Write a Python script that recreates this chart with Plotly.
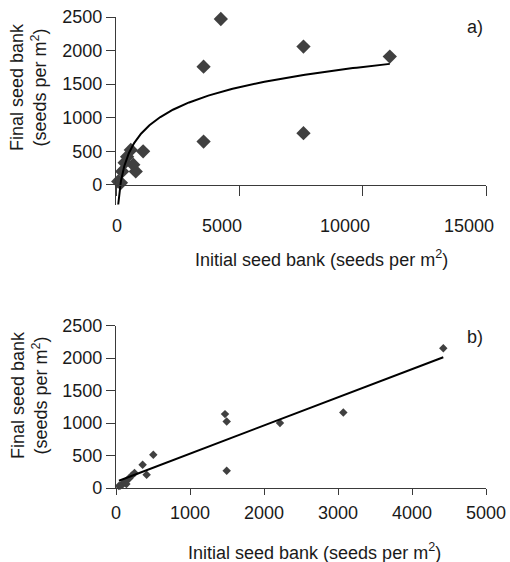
import numpy as np
import plotly.graph_objects as go

# ---- data ----
initial_a = [90, 200, 250, 350, 450, 600, 700, 800, 1100, 3550, 3550, 4250, 7600, 7600, 11100]
final_a = [50, 30, 200, 330, 420, 520, 300, 200, 500, 1760, 645, 2470, 2060, 770, 1910]
# logarithmic trend line y = A*ln(x) + B (coefficients)
LOG_A = 435.0
LOG_B = -2250.0

initial_b = [40, 60, 80, 100, 120, 140, 150, 180, 210, 250, 360, 414, 504, 1473, 1496, 1496, 2216, 3072, 4423]
final_b = [30, 40, 50, 70, 90, 60, 120, 150, 190, 230, 358, 204, 512, 1138, 1025, 266, 1000, 1163, 2154]
# linear trend line y = S*x + C
LIN_S = 0.434
LIN_C = 95.0

ticks_x_a = [0, 5000, 10000, 15000]
ticks_x_b = [0, 1000, 2000, 3000, 4000, 5000]
ticks_y = [0, 500, 1000, 1500, 2000, 2500]

# ---- layout geometry ----
W, H = 510, 562
ML, MR, MT, MB = 116, 24, 17, 74
PW = W - ML - MR
PH = H - MT - MB


def px_x(p):
    return (p - ML) / PW


def px_y(p):
    return (H - MB - p) / PH


ya_range = [-300, 2500]
ya_dom = [px_y(205), 1.0]
yb_dom = [0.0, px_y(325.7)]
xa_pos = ya_dom[0] + (0 - ya_range[0]) / (ya_range[1] - ya_range[0]) * (ya_dom[1] - ya_dom[0])

FONT = "Liberation Sans, Arial, sans-serif"
TXT = "#1a1a1a"
MK = "#404040"
AX = "#3a3a3a"

xa_line = np.geomspace(min(initial_a), max(initial_a), 300)
ya_line = LOG_A * np.log(xa_line) + LOG_B
xb_line = np.array([min(initial_b), max(initial_b)])
yb_line = LIN_S * xb_line + LIN_C

fig = go.Figure()
fig.add_trace(go.Scatter(x=initial_a, y=final_a, mode="markers", xaxis="x", yaxis="y",
                         marker=dict(symbol="diamond", size=11, color=MK), cliponaxis=False))
fig.add_trace(go.Scatter(x=xa_line, y=ya_line, mode="lines", xaxis="x", yaxis="y",
                         line=dict(color="black", width=2), cliponaxis=False))
fig.add_trace(go.Scatter(x=initial_b, y=final_b, mode="markers", xaxis="x2", yaxis="y2",
                         marker=dict(symbol="diamond", size=6.5, color=MK), cliponaxis=False))
fig.add_trace(go.Scatter(x=xb_line, y=yb_line, mode="lines", xaxis="x2", yaxis="y2",
                         line=dict(color="black", width=2), cliponaxis=False))

axcommon = dict(showgrid=False, zeroline=False, showline=True, linecolor=AX, linewidth=1.3,
                ticks="outside", tickcolor=AX, tickwidth=1.3, automargin=False,
                ticklabeloverflow="allow",
                tickfont=dict(family=FONT, size=18, color=TXT))

fig.update_layout(
    width=W, height=H, margin=dict(l=ML, r=MR, t=MT, b=MB, autoexpand=False),
    paper_bgcolor="white", plot_bgcolor="white", showlegend=False,
    xaxis=dict(**axcommon, range=[0, 15000], tickvals=ticks_x_a, showticklabels=False,
               ticklen=10, anchor="free", position=xa_pos, domain=[0, 1]),
    yaxis=dict(**axcommon, range=ya_range, tickvals=ticks_y, ticklen=9, domain=ya_dom, anchor="x"),
    xaxis2=dict(**axcommon, range=[0, 5000], tickvals=ticks_x_b,
                ticktext=[str(v) for v in ticks_x_b], ticklen=6, anchor="y2",
                ticklabelstandoff=2, domain=[0, 1]),
    yaxis2=dict(**axcommon, range=[0, 2500], tickvals=ticks_y, ticklen=9, domain=yb_dom, anchor="x2"),
)

ann_font = dict(family=FONT, size=18, color=TXT)

# top-chart x tick labels: in the reference they sit a little left of their ticks
for v in ticks_x_a:
    fig.add_annotation(xref="x", yref="paper", x=v, y=px_y(226), text=str(v),
                       xshift=(1 if v == 0 else -17.5), showarrow=False, font=ann_font,
                       xanchor="center", yanchor="middle")

xtitle = "Initial seed bank (seeds per m<sup>2</sup>)"
ytitle = "Final seed bank<br>(seeds per m<sup>2</sup>)"
anns = [
    dict(text="a)", x=px_x(475), y=px_y(27)),
    dict(text="b)", x=px_x(475), y=px_y(337)),
    dict(text=xtitle, x=px_x(321), y=px_y(258)),
    dict(text=xtitle, x=px_x(314), y=px_y(551)),
    dict(text=ytitle, x=px_x(29), y=px_y(87), textangle=-90),
    dict(text=ytitle, x=px_x(29), y=px_y(395), textangle=-90),
]
for a in anns:
    fig.add_annotation(xref="paper", yref="paper", showarrow=False, font=ann_font,
                       xanchor="center", yanchor="middle", **a)

post = ("document.body.style.margin='0px';document.body.style.padding='0px';"
        "var d=document.getElementById('{plot_id}');d.style.position='absolute';"
        "d.style.left='0px';d.style.top='0px';")
fig.write_html("out.html", post_script=post, config={"displayModeBar": False})
